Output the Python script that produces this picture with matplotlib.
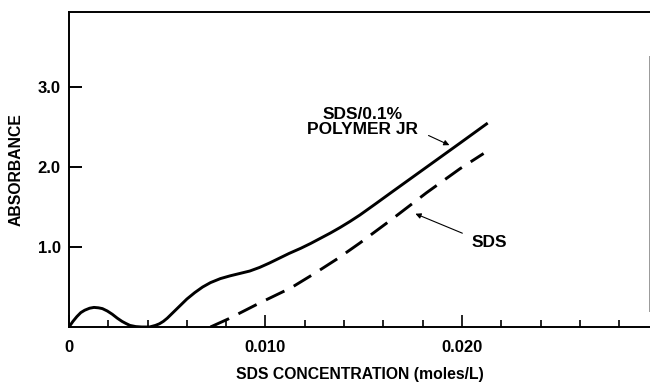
import matplotlib
matplotlib.use('Agg')
import matplotlib.pyplot as plt
from matplotlib.ticker import MultipleLocator

plt.rcParams['font.family'] = ['Liberation Sans', 'DejaVu Sans']

# SDS with 0.1% Polymer JR
conc_jr = [0, 0.0002, 0.0004, 0.0006, 0.0008, 0.00105, 0.00127, 0.0015, 0.0017,
           0.00195, 0.0022, 0.00246, 0.0027, 0.00289, 0.0031, 0.0034, 0.0037,
           0.0041, 0.0044, 0.0046, 0.0048, 0.0050, 0.00525, 0.0055, 0.00575,
           0.006, 0.0064, 0.0068, 0.0072, 0.0077, 0.0082, 0.0087, 0.0092,
           0.0097, 0.0102, 0.0107, 0.0112, 0.0118, 0.0123, 0.0128, 0.0133,
           0.0138, 0.0143, 0.0148, 0.0156, 0.0165, 0.0182, 0.0199, 0.02125]
abs_jr = [0, 0.07, 0.13, 0.18, 0.21, 0.235, 0.245, 0.24, 0.23,
          0.20, 0.16, 0.11, 0.07, 0.045, 0.02, 0.005, 0.0,
          0.0, 0.02, 0.04, 0.07, 0.11, 0.17, 0.23, 0.29,
          0.35, 0.43, 0.50, 0.555, 0.605, 0.64, 0.67, 0.70,
          0.745, 0.80, 0.86, 0.92, 0.985, 1.045, 1.11, 1.175,
          1.245, 1.32, 1.40, 1.54, 1.70, 2.00, 2.30, 2.54]

# SDS alone
conc_sds = [0.0072, 0.0081, 0.0097, 0.0113, 0.0125, 0.0137, 0.0148, 0.0165,
            0.0182, 0.0199, 0.0211]
abs_sds = [0, 0.10, 0.30, 0.49, 0.67, 0.86, 1.05, 1.36, 1.68, 1.98, 2.17]

fig = plt.figure(figsize=(6.5, 3.82), dpi=100)
ax = fig.add_axes([69 / 650, 1 - 327 / 382, 1 - 69 / 650, 315 / 382])

ax.plot(conc_jr, abs_jr, color='black', lw=2.1, solid_joinstyle='round')
ax.plot(conc_sds, abs_sds, color='black', lw=2.1, dashes=(7, 3.6))

ax.set_xlim(0, 0.02957)
ax.set_ylim(0, 3.94)

for side in ['left', 'top', 'bottom']:
    ax.spines[side].set_linewidth(1.4)
ax.spines['right'].set_visible(False)
ax.axvline(0.0295, ymin=0.05, ymax=0.86, color='0.6', lw=0.7)

ax.set_xticks([0, 0.010, 0.020])
ax.set_xticklabels(['0', '0.010', '0.020'])
ax.xaxis.set_minor_locator(MultipleLocator(0.002))
ax.set_yticks([1.0, 2.0, 3.0])
ax.set_yticklabels(['1.0', '2.0', '3.0'])
ax.tick_params(axis='x', which='major', direction='in', length=9, width=1.2,
               pad=9, labelsize=12)
ax.tick_params(axis='x', which='minor', direction='in', length=5, width=1.2)
ax.tick_params(axis='y', direction='in', length=9, width=1.4, pad=6, labelsize=12)
for lbl in ax.get_xticklabels() + ax.get_yticklabels():
    lbl.set_fontweight('bold')

ax.set_xlabel('SDS CONCENTRATION (moles/L)', fontsize=11.3, fontweight='bold', labelpad=9)
ax.set_ylabel('ABSORBANCE', fontsize=11.3, fontweight='bold', labelpad=10)

ax.text(0.01496, 2.57, 'SDS/0.1%\nPOLYMER JR', ha='center', va='center',
        fontsize=12.5, fontweight='bold', linespacing=1.0)
ax.annotate('', xy=(0.01949, 2.26), xytext=(0.01817, 2.41),
            arrowprops=dict(arrowstyle='-|>', lw=0.8, color='black', mutation_scale=8))
ax.text(0.0214, 1.06, 'SDS', ha='center', va='center', fontsize=12.5, fontweight='bold')
ax.annotate('', xy=(0.0175, 1.43), xytext=(0.02015, 1.16),
            arrowprops=dict(arrowstyle='-|>', lw=0.8, color='black', mutation_scale=8))

fig.savefig('out.png', dpi=100)
